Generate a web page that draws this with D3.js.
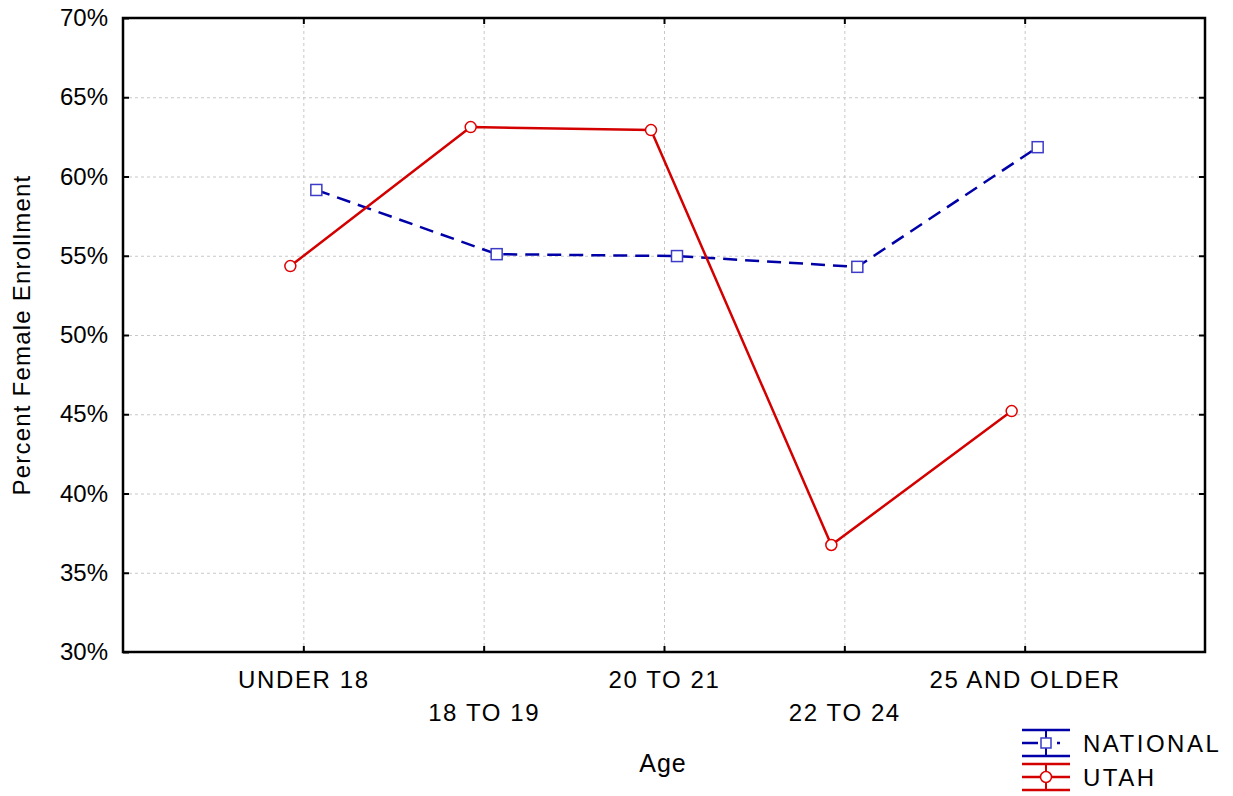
<!DOCTYPE html>
<html lang="en">
<head>
<meta charset="utf-8">
<title>Percent Female Enrollment by Age</title>
<script src="https://d3js.org/d3.v7.min.js"></script>
<style>
  body{margin:0;background:#fff;font-family:"Liberation Sans",Arial,sans-serif;}
  .grid line{stroke:#c8c8c8;stroke-width:1;stroke-dasharray:3,3;}
  .grid .domain{display:none;}
  .axis text{font-size:24px;fill:#000;font-family:"Liberation Sans",Arial,sans-serif;}
  .axis line{stroke:#000;stroke-width:2;}
  .axis .domain{display:none;}
</style>
</head>
<body>
<div id="chart"></div>
<script>
// data
var ages = ["UNDER 18","18 TO 19","20 TO 21","22 TO 24","25 AND OLDER"]
var national = [0.5915,0.551,0.5498,0.543,0.6185]
var utah = [0.5435,0.6312,0.6293,0.3675,0.452]
var yTicks = [0.30,0.35,0.40,0.45,0.50,0.55,0.60,0.65,0.70]

var W = 1233, H = 796
var pLeft = 123, pRight = 1205, pTop = 18, pBottom = 652

var svg = d3.select("#chart").append("svg")
    .attr("width",W).attr("height",H)

var x = d3.scalePoint().domain(ages).range([pLeft,pRight]).padding(1)
var y = d3.scaleLinear().domain([0.30,0.70]).range([pBottom,pTop])
var fmt = d3.format(".0%")

// grid
svg.append("g").attr("class","grid")
    .attr("transform","translate(0,"+pBottom+")")
    .call(d3.axisBottom(x).tickSize(-(pBottom-pTop)).tickFormat(""))
svg.append("g").attr("class","grid")
    .attr("transform","translate("+pLeft+",0)")
    .call(d3.axisLeft(y).tickValues(yTicks.slice(1,-1)).tickSize(-(pRight-pLeft)).tickFormat(""))

// frame
svg.append("rect")
    .attr("x",pLeft).attr("y",pTop)
    .attr("width",pRight-pLeft).attr("height",pBottom-pTop)
    .attr("fill","none").attr("stroke","#000").attr("stroke-width",2.5)

// axes, ticks pointing inward
svg.append("g").attr("class","axis")
    .attr("transform","translate("+pLeft+",0)")
    .call(d3.axisLeft(y).tickValues(yTicks).tickFormat(fmt).tickSizeInner(-6).tickSizeOuter(0).tickPadding(15))
svg.append("g").attr("class","axis")
    .attr("transform","translate("+pRight+",0)")
    .call(d3.axisRight(y).tickValues(yTicks.slice(1,-1)).tickFormat("").tickSizeInner(-6).tickSizeOuter(0))
svg.append("g").attr("class","axis")
    .attr("transform","translate(0,"+pTop+")")
    .call(d3.axisTop(x).tickFormat("").tickSizeInner(-6).tickSizeOuter(0))

var xAx = svg.append("g").attr("class","axis")
    .attr("transform","translate(0,"+pBottom+")")
    .call(d3.axisBottom(x).tickSizeInner(-6).tickSizeOuter(0).tickPadding(0))
xAx.selectAll("text")
    .attr("dy",null)
    .attr("y",function(d,i){ return i%2==0 ? 36 : 69 })
    .style("letter-spacing","1.6px")

// axis titles
svg.append("text")
    .attr("x",(pLeft+pRight)/2 - 1).attr("y",772)
    .attr("text-anchor","middle")
    .style("font-size","25px")
    .style("letter-spacing","1px")
    .text("Age")
svg.append("text")
    .attr("transform","translate(30,"+((pTop+pBottom)/2)+") rotate(-90)")
    .attr("text-anchor","middle")
    .style("font-size","24px")
    .style("letter-spacing","1.2px")
    .text("Percent Female Enrollment")

// series
var series = [
  {name:"NATIONAL", values:national, off:13, line:"#0000a8", mark:"#3c3cc8", dash:"14,8", shape:"square"},
  {name:"UTAH", values:utah, off:-13, line:"#d40000", mark:"#e00000", dash:null, shape:"circle"}
]

var line = d3.line()

series.forEach(function(s){
    var pts = s.values.map(function(v,i){ return [x(ages[i])+s.off, y(v)] })
    svg.append("path")
        .attr("d",line(pts))
        .attr("fill","none")
        .attr("stroke",s.line)
        .attr("stroke-width",2.5)
        .attr("stroke-dasharray",s.dash)
    drawMarks(pts,s)
})

function drawMarks(pts,s){
    if(s.shape=="square"){
        svg.selectAll(".sq").data(pts).enter().append("rect")
            .attr("x",function(d){return d[0]-5.5})
            .attr("y",function(d){return d[1]-5.5})
            .attr("width",11).attr("height",11)
            .attr("fill","#fff").attr("stroke",s.mark).attr("stroke-width",1.5)
    } else {
        svg.selectAll(".ci").data(pts).enter().append("circle")
            .attr("cx",function(d){return d[0]})
            .attr("cy",function(d){return d[1]})
            .attr("r",5.5)
            .attr("fill","#fff").attr("stroke",s.mark).attr("stroke-width",1.5)
    }
}

// legend
var lg = svg.append("g").attr("transform","translate(1022,743)")
series.forEach(function(s,i){
    var g = lg.append("g").attr("transform","translate(0,"+(i*34)+")")
    g.append("line").attr("x1",0).attr("x2",48).attr("y1",-13).attr("y2",-13)
        .attr("stroke",s.line).attr("stroke-width",2.5)
    g.append("line").attr("x1",0).attr("x2",48).attr("y1",13).attr("y2",13)
        .attr("stroke",s.line).attr("stroke-width",2.5)
    g.append("line").attr("x1",24).attr("x2",24).attr("y1",-13).attr("y2",13)
        .attr("stroke",s.line).attr("stroke-width",2)
    g.append("line").attr("x1",0).attr("x2",48).attr("y1",0).attr("y2",0)
        .attr("stroke",s.line).attr("stroke-width",2.5)
        .attr("stroke-dasharray",s.dash ? "16,3,0,3,6,7,3" : null)
    if(s.shape=="square"){
        g.append("rect").attr("x",19).attr("y",-5).attr("width",10).attr("height",10)
            .attr("fill","#fff").attr("stroke",s.mark).attr("stroke-width",1.5)
    } else {
        g.append("circle").attr("cx",24).attr("cy",0).attr("r",5.5)
            .attr("fill","#fff").attr("stroke",s.mark).attr("stroke-width",1.5)
    }
    g.append("text").attr("x",61).attr("y",9)
        .style("font-size","24px")
        .style("letter-spacing","2.5px")
        .text(s.name)
})
</script>
</body>
</html>
